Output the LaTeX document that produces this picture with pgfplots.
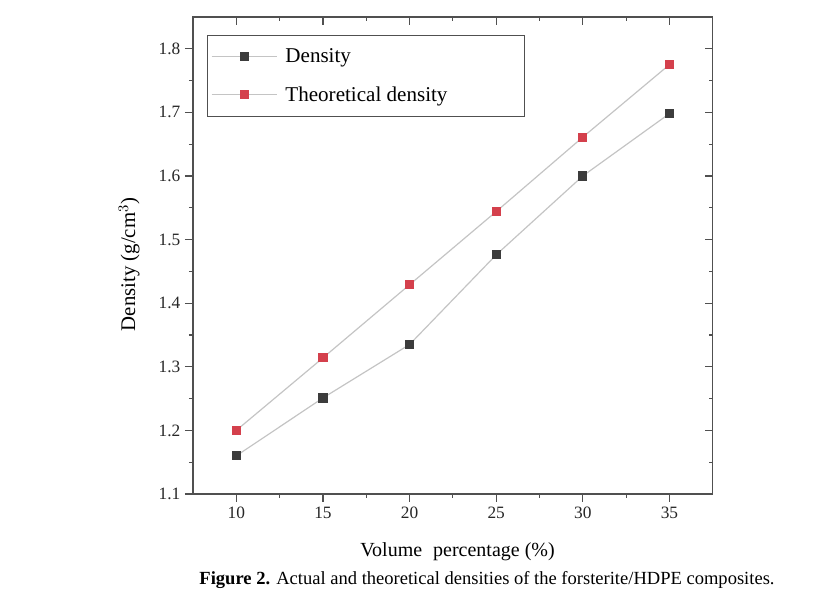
\documentclass[border=0pt]{standalone}
\usepackage{pgfplots}
\pgfplotsset{compat=1.18}
\usepackage{fontspec}
\setmainfont{Liberation Serif}
\definecolor{lgray}{HTML}{C4C4C4}
\definecolor{mdark}{HTML}{3C3C3C}
\definecolor{mred}{HTML}{D4404C}
\definecolor{axgray}{HTML}{505050}
\begin{document}
\begin{tikzpicture}
\path[use as bounding box] (0pt,0pt) rectangle (614.25pt,450pt);
\pgfplotsset{
  common/.style={
    at={(144.75pt,79.5pt)}, anchor=south west,
    scale only axis, width=389.8pt, height=357.8pt,
    xmin=7.5, xmax=37.5, ymin=1.1, ymax=1.85,
    xtick={10,15,20,25,30,35}, ytick={1.1,1.2,1.3,1.4,1.5,1.6,1.7,1.8},
    minor x tick num=1, minor y tick num=1,
    major tick length=6pt, minor tick length=3pt,
    every tick/.style={axgray, line width=0.9pt},
    axis line style={axgray, line width=1pt},
  }
}
\begin{axis}[common,
  xtick pos=bottom, ytick pos=left, tick align=outside,
  /pgf/number format/assume math mode=true,
  ticklabel style={font=\fontsize{13}{15}\selectfont, text=black!85},
  yticklabel style={/pgf/number format/fixed, /pgf/number format/precision=1, /pgf/number format/fixed zerofill},
  xlabel={Volume\hspace{0.55em}percentage (\%)},
  xlabel style={at={(axis description cs:0.509,-0.12)}, anchor=center, font=\fontsize{15}{17}\selectfont},
  ylabel={Density (g/cm$^{3}$)},
  ylabel style={at={(axis description cs:-0.123,0.481)}, anchor=center, rotate=0, font=\fontsize{15.6}{17}\selectfont},
  legend style={at={(axis description cs:0.026,0.962)}, anchor=north west,
    draw=axgray, line width=0.6pt, inner xsep=3pt, inner ysep=8pt, row sep=12.3pt,
    font=\fontsize{15.8}{18}\selectfont, cells={anchor=west}},
  legend image code/.code={\draw[mark repeat=2,mark phase=2,#1] plot coordinates {(0pt,0pt) (24.5pt,0pt) (49pt,0pt)};},
]
\addplot[lgray, line width=0.9pt, mark=square*, mark size=3pt, mark options={draw=mdark, fill=mdark}]
  coordinates {(10,1.160) (15,1.251) (20,1.335) (25,1.476) (30,1.600) (35,1.698)};
\addlegendentry{\hspace{4pt}\makebox[174pt][l]{Density}}
\addplot[lgray, line width=0.9pt, mark=square*, mark size=3pt, mark options={draw=mred, fill=mred}]
  coordinates {(10,1.200) (15,1.314) (20,1.429) (25,1.544) (30,1.661) (35,1.775)};
\addlegendentry{\hspace{4pt}\makebox[174pt][l]{Theoretical density}}
\end{axis}
\begin{axis}[common,
  xtick pos=top, ytick pos=right, tick align=inside,
  xticklabels={}, yticklabels={},
]
\end{axis}
\node[font=\fontsize{13.9}{16}\selectfont] at (365.25pt,15pt) {\textbf{Figure 2.} Actual and theoretical densities of the forsterite/HDPE composites.};
\end{tikzpicture}
\end{document}
